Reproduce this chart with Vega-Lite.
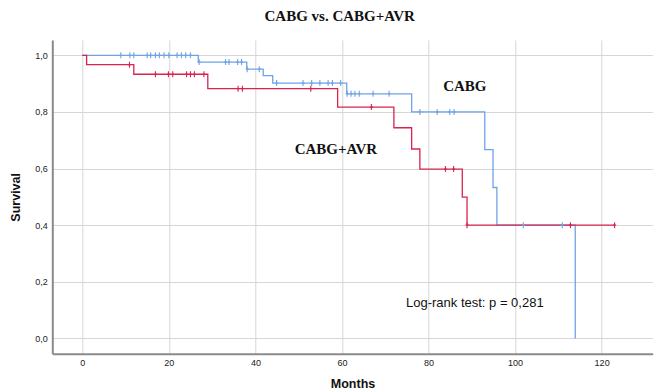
{
  "$schema": "https://vega.github.io/schema/vega-lite/v6.json",
  "width": 600.4,
  "height": 313.7,
  "autosize": {"type": "none"},
  "padding": {"left": 52.3, "top": 40, "right": 7.3, "bottom": 38.3},
  "background": "white",
  "config": {
    "view": {"stroke": null},
    "axis": {
      "domainColor": "#8a8a8a",
      "domainWidth": 2,
      "gridColor": "#d6d6d6",
      "gridWidth": 1,
      "ticks": false,
      "labelFont": "Liberation Sans",
      "labelFontSize": 9,
      "labelColor": "#222222",
      "titleFont": "Liberation Sans",
      "titleFontSize": 12.5,
      "titleFontWeight": "bold",
      "titleColor": "#111111"
    }
  },
  "title": {
    "text": "CABG vs. CABG+AVR",
    "font": "Liberation Serif",
    "fontSize": 15,
    "fontWeight": "bold",
    "color": "#111111",
    "anchor": "middle",
    "frame": "group",
    "dx": -12.8,
    "offset": 16
  },
  "datasets": {
    "curves": [
      {"group": "CABG", "month": 0, "surv": 1.0},
      {"group": "CABG", "month": 26.8, "surv": 0.976},
      {"group": "CABG", "month": 38.0, "surv": 0.951},
      {"group": "CABG", "month": 41.8, "surv": 0.928},
      {"group": "CABG", "month": 44.0, "surv": 0.902},
      {"group": "CABG", "month": 61.1, "surv": 0.864},
      {"group": "CABG", "month": 76.1, "surv": 0.8},
      {"group": "CABG", "month": 93.0, "surv": 0.667},
      {"group": "CABG", "month": 94.9, "surv": 0.533},
      {"group": "CABG", "month": 95.8, "surv": 0.4},
      {"group": "CABG", "month": 113.9, "surv": 0.0},
      {"group": "CABG+AVR", "month": 0, "surv": 1.0},
      {"group": "CABG+AVR", "month": 1.0, "surv": 0.967},
      {"group": "CABG+AVR", "month": 11.9, "surv": 0.933},
      {"group": "CABG+AVR", "month": 29.0, "surv": 0.882},
      {"group": "CABG+AVR", "month": 59.0, "surv": 0.817},
      {"group": "CABG+AVR", "month": 72.0, "surv": 0.744},
      {"group": "CABG+AVR", "month": 76.1, "surv": 0.669},
      {"group": "CABG+AVR", "month": 78.0, "surv": 0.598},
      {"group": "CABG+AVR", "month": 87.8, "surv": 0.499},
      {"group": "CABG+AVR", "month": 88.9, "surv": 0.4},
      {"group": "CABG+AVR", "month": 123.0, "surv": 0.4}
    ],
    "censors": [
      {"group": "CABG", "month": 8.9, "surv": 1.0},
      {"group": "CABG", "month": 11.0, "surv": 1.0},
      {"group": "CABG", "month": 11.9, "surv": 1.0},
      {"group": "CABG", "month": 15.0, "surv": 1.0},
      {"group": "CABG", "month": 15.8, "surv": 1.0},
      {"group": "CABG", "month": 16.9, "surv": 1.0},
      {"group": "CABG", "month": 17.8, "surv": 1.0},
      {"group": "CABG", "month": 18.9, "surv": 1.0},
      {"group": "CABG", "month": 20.0, "surv": 1.0},
      {"group": "CABG", "month": 21.9, "surv": 1.0},
      {"group": "CABG", "month": 22.9, "surv": 1.0},
      {"group": "CABG", "month": 23.9, "surv": 1.0},
      {"group": "CABG", "month": 25.0, "surv": 1.0},
      {"group": "CABG", "month": 27.0, "surv": 0.976},
      {"group": "CABG", "month": 33.1, "surv": 0.976},
      {"group": "CABG", "month": 33.9, "surv": 0.976},
      {"group": "CABG", "month": 35.9, "surv": 0.976},
      {"group": "CABG", "month": 36.8, "surv": 0.976},
      {"group": "CABG", "month": 38.1, "surv": 0.951},
      {"group": "CABG", "month": 40.9, "surv": 0.951},
      {"group": "CABG", "month": 44.9, "surv": 0.902},
      {"group": "CABG", "month": 51.0, "surv": 0.902},
      {"group": "CABG", "month": 53.0, "surv": 0.902},
      {"group": "CABG", "month": 54.9, "surv": 0.902},
      {"group": "CABG", "month": 56.8, "surv": 0.902},
      {"group": "CABG", "month": 57.8, "surv": 0.902},
      {"group": "CABG", "month": 59.7, "surv": 0.902},
      {"group": "CABG", "month": 61.2, "surv": 0.864},
      {"group": "CABG", "month": 62.1, "surv": 0.864},
      {"group": "CABG", "month": 63.0, "surv": 0.864},
      {"group": "CABG", "month": 64.0, "surv": 0.864},
      {"group": "CABG", "month": 67.2, "surv": 0.864},
      {"group": "CABG", "month": 70.9, "surv": 0.864},
      {"group": "CABG", "month": 78.0, "surv": 0.8},
      {"group": "CABG", "month": 82.0, "surv": 0.8},
      {"group": "CABG", "month": 84.9, "surv": 0.8},
      {"group": "CABG", "month": 85.9, "surv": 0.8},
      {"group": "CABG", "month": 101.9, "surv": 0.4},
      {"group": "CABG", "month": 110.9, "surv": 0.4},
      {"group": "CABG+AVR", "month": 10.9, "surv": 0.967},
      {"group": "CABG+AVR", "month": 16.9, "surv": 0.933},
      {"group": "CABG+AVR", "month": 19.9, "surv": 0.933},
      {"group": "CABG+AVR", "month": 20.9, "surv": 0.933},
      {"group": "CABG+AVR", "month": 24.1, "surv": 0.933},
      {"group": "CABG+AVR", "month": 25.0, "surv": 0.933},
      {"group": "CABG+AVR", "month": 25.9, "surv": 0.933},
      {"group": "CABG+AVR", "month": 28.1, "surv": 0.933},
      {"group": "CABG+AVR", "month": 36.0, "surv": 0.882},
      {"group": "CABG+AVR", "month": 37.0, "surv": 0.882},
      {"group": "CABG+AVR", "month": 52.8, "surv": 0.882},
      {"group": "CABG+AVR", "month": 66.8, "surv": 0.817},
      {"group": "CABG+AVR", "month": 83.9, "surv": 0.598},
      {"group": "CABG+AVR", "month": 85.8, "surv": 0.598},
      {"group": "CABG+AVR", "month": 88.9, "surv": 0.4},
      {"group": "CABG+AVR", "month": 112.8, "surv": 0.4},
      {"group": "CABG+AVR", "month": 123.0, "surv": 0.4}
    ],
    "serifLabels": [
      {"label": "CABG", "month": 88.4, "surv": 0.893},
      {"label": "CABG+AVR", "month": 58.6, "surv": 0.669}
    ],
    "note": [
      {"label": "Log-rank test: p = 0,281", "month": 90.7, "surv": 0.124}
    ]
  },
  "encoding": {
    "x": {
      "field": "month",
      "type": "quantitative",
      "scale": {"domain": [-6.93, 131.8], "nice": false, "zero": false},
      "axis": {
        "title": "Months",
        "values": [0, 20, 40, 60, 80, 100, 120],
        "labelPadding": 5,
        "titlePadding": 10
      }
    },
    "y": {
      "field": "surv",
      "type": "quantitative",
      "scale": {"domain": [-0.054, 1.054], "nice": false, "zero": false},
      "axis": {
        "title": "Survival",
        "values": [0, 0.2, 0.4, 0.6, 0.8, 1.0],
        "labelExpr": "replace(format(datum.value, '.1f'), '.', ',')",
        "labelPadding": 5,
        "titlePadding": 12
      }
    }
  },
  "layer": [
    {
      "data": {"name": "curves"},
      "mark": {"type": "line", "interpolate": "step-after", "strokeWidth": 1.3},
      "encoding": {
        "color": {
          "field": "group",
          "type": "nominal",
          "scale": {"domain": ["CABG", "CABG+AVR"], "range": ["#6fa3e6", "#d9234f"]},
          "legend": null
        }
      }
    },
    {
      "data": {"name": "censors"},
      "mark": {
        "type": "point",
        "shape": "M0,-1L0,1M-0.5,0L0.5,0",
        "filled": false,
        "size": 36,
        "strokeWidth": 1.1,
        "opacity": 1
      },
      "encoding": {
        "color": {
          "field": "group",
          "type": "nominal",
          "scale": {"domain": ["CABG", "CABG+AVR"], "range": ["#6fa3e6", "#d9234f"]},
          "legend": null
        }
      }
    },
    {
      "data": {"name": "serifLabels"},
      "mark": {
        "type": "text",
        "font": "Liberation Serif",
        "fontSize": 15,
        "fontWeight": "bold",
        "color": "#111111",
        "align": "center",
        "baseline": "middle"
      },
      "encoding": {"text": {"field": "label"}}
    },
    {
      "data": {"name": "note"},
      "mark": {
        "type": "text",
        "font": "Liberation Sans",
        "fontSize": 13,
        "color": "#111111",
        "align": "center",
        "baseline": "middle"
      },
      "encoding": {"text": {"field": "label"}}
    }
  ]
}
